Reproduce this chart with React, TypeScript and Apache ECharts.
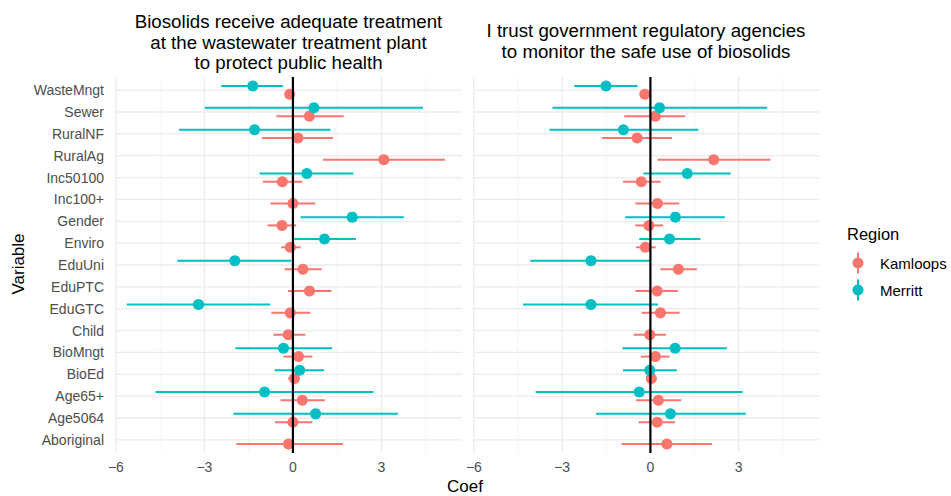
import React, { useEffect, useRef } from "react";
import * as echarts from "echarts";

const categories = ["WasteMngt", "Sewer", "RuralNF", "RuralAg", "Inc50100", "Inc100+", "Gender", "Enviro", "EduUni", "EduPTC", "EduGTC", "Child", "BioMngt", "BioEd", "Age65+", "Age5064", "Aboriginal"];

const panelTitles = [
  ["Biosolids receive adequate treatment", "at the wastewater treatment plant", "to protect public health"],
  ["I trust government regulatory agencies", "to monitor the safe use of biosolids"],
];

const xTicks = [-6, -3, 0, 3];
const xGridMajor = [-6, -3, 0, 3];
const xGridMinor = [-4.5, -1.5, 1.5, 4.5];

// Panel 1: treatment
const p1KamEst = [-0.11, 0.56, 0.17, 3.08, -0.36, 0.0, -0.37, -0.09, 0.34, 0.56, -0.09, -0.16, 0.19, 0.05, 0.32, 0.0, -0.15];
const p1KamLo = [-0.22, -0.56, -1.05, 1.02, -1.02, -0.76, -0.86, -0.4, -0.28, -0.17, -0.73, -0.66, -0.32, -0.16, -0.42, -0.61, -1.92];
const p1KamHi = [0.0, 1.72, 1.36, 5.15, 0.32, 0.76, 0.11, 0.26, 0.97, 1.3, 0.59, 0.42, 0.66, 0.23, 1.08, 0.66, 1.69];
const p1MerEst = [-1.36, 0.71, -1.3, null, 0.47, null, 2.01, 1.07, -1.97, null, -3.2, null, -0.32, 0.23, -0.96, 0.77, null];
const p1MerLo = [-2.43, -2.99, -3.86, null, -1.13, null, 0.26, 0.03, -3.92, null, -5.63, null, -1.95, -0.62, -4.66, -2.02, null];
const p1MerHi = [-0.34, 4.41, 1.27, null, 2.05, null, 3.76, 2.14, -0.05, null, -0.77, null, 1.33, 1.05, 2.73, 3.56, null];

// Panel 2: trust
const p2KamEst = [-0.19, 0.17, -0.45, 2.15, -0.31, 0.24, -0.05, -0.17, 0.95, 0.23, 0.34, -0.02, 0.17, 0.03, 0.27, 0.23, 0.56];
const p2KamLo = [-0.3, -0.89, -1.65, 0.24, -0.93, -0.51, -0.51, -0.49, 0.34, -0.51, -0.3, -0.57, -0.32, -0.15, -0.49, -0.4, -0.98];
const p2KamHi = [-0.08, 1.18, 0.73, 4.08, 0.35, 0.98, 0.43, 0.18, 1.58, 0.93, 0.99, 0.53, 0.65, 0.22, 1.05, 0.84, 2.09];
const p2MerEst = [-1.51, 0.31, -0.92, null, 1.25, null, 0.85, 0.65, -2.02, null, -2.02, null, 0.84, -0.02, -0.38, 0.68, null];
const p2MerLo = [-2.59, -3.33, -3.43, null, -0.24, null, -0.86, -0.38, -4.08, null, -4.33, null, -0.95, -0.93, -3.9, -1.85, null];
const p2MerHi = [-0.44, 3.97, 1.63, null, 2.73, null, 2.53, 1.7, -0.03, null, 0.26, null, 2.6, 0.9, 3.13, 3.24, null];

const regions = ["Kamloops", "Merritt"];
const colors: Record<string, string> = { Kamloops: "#F8766D", Merritt: "#00BFC4" };
const dodge: Record<string, number> = { Kamloops: 0.19, Merritt: -0.19 };

const FONT = "'Liberation Sans', Arial, Helvetica, sans-serif";
const X_MIN = -6.03;
const X_MAX = 5.73;
const Y_MIN = -0.6;
const Y_MAX = categories.length - 1 + 0.6;

function build(est: (number | null)[], lo: (number | null)[], hi: (number | null)[]) {
  const out: number[][] = [];
  est.forEach((e, i) => {
    if (e !== null && lo[i] !== null && hi[i] !== null) out.push([e, i, lo[i] as number, hi[i] as number]);
  });
  return out;
}

export default function App() {
  const ref = useRef<HTMLDivElement>(null);
  useEffect(() => {
    if (!ref.current) return;
    const chart = echarts.init(ref.current, undefined, { renderer: "svg" });

    const grids = [
      { left: 115, top: 77, width: 347, height: 376 },
      { left: 473, top: 77, width: 346, height: 376 },
    ];

    const panels = [
      { Kamloops: build(p1KamEst, p1KamLo, p1KamHi), Merritt: build(p1MerEst, p1MerLo, p1MerHi) },
      { Kamloops: build(p2KamEst, p2KamLo, p2KamHi), Merritt: build(p2MerEst, p2MerLo, p2MerHi) },
    ];

    const series: any[] = [];
    [0, 1].forEach((g) => {
      // vertical grid lines
      series.push({
        type: "custom",
        xAxisIndex: g,
        yAxisIndex: g,
        z: 1,
        silent: true,
        data: [...xGridMajor.map((v) => [v, 0, 1]), ...xGridMinor.map((v) => [v, 0, 0])],
        renderItem: (params: any, api: any) => {
          const v = api.value(0);
          const major = api.value(2) === 1;
          const a = api.coord([v, Y_MIN]);
          const b = api.coord([v, Y_MAX]);
          return {
            type: "line",
            shape: { x1: a[0], y1: a[1], x2: b[0], y2: b[1] },
            style: { stroke: major ? "#ebebeb" : "#f3f3f3", lineWidth: major ? 1.3 : 0.8 },
          };
        },
      });
      // horizontal grid lines
      series.push({
        type: "custom",
        xAxisIndex: g,
        yAxisIndex: g,
        z: 1,
        silent: true,
        data: categories.map((_, i) => [0, i]),
        renderItem: (params: any, api: any) => {
          const i = api.value(1);
          const a = api.coord([X_MIN, i]);
          const b = api.coord([X_MAX, i]);
          return {
            type: "line",
            shape: { x1: a[0], y1: a[1], x2: b[0], y2: b[1] },
            style: { stroke: "#ebebeb", lineWidth: 1.3 },
          };
        },
      });
      regions.forEach((r) => {
        const color = colors[r];
        const off = dodge[r];
        series.push({
          type: "custom",
          name: r,
          xAxisIndex: g,
          yAxisIndex: g,
          z: 2,
          data: (panels[g] as any)[r],
          encode: { x: [0, 2, 3], y: 1 },
          renderItem: (params: any, api: any) => {
            const y = api.value(1) + off;
            const a = api.coord([api.value(2), y]);
            const b = api.coord([api.value(3), y]);
            const c = api.coord([api.value(0), y]);
            return {
              type: "group",
              children: [
                { type: "line", shape: { x1: a[0], y1: a[1], x2: b[0], y2: b[1] }, style: { stroke: color, lineWidth: 2 } },
                { type: "circle", shape: { cx: c[0], cy: c[1], r: 5.5 }, style: { fill: color } },
              ],
            };
          },
        });
      });
      // zero reference line
      series.push({
        type: "custom",
        xAxisIndex: g,
        yAxisIndex: g,
        z: 3,
        silent: true,
        data: [[0, 0]],
        renderItem: (params: any, api: any) => {
          const v = api.value(0);
          const a = api.coord([v, Y_MIN]);
          const b = api.coord([v, Y_MAX]);
          return {
            type: "line",
            shape: { x1: a[0], y1: a[1], x2: b[0], y2: b[1] },
            style: { stroke: "#000000", lineWidth: 2.2 },
          };
        },
      });
    });

    const graphic: any[] = [];
    const titleLineY = [[21, 42, 62.5], [30.5, 51]];
    panelTitles.forEach((lines, g) => {
      const cx = grids[g].left + grids[g].width / 2;
      lines.forEach((t, k) => {
        graphic.push({
          type: "text",
          x: cx,
          y: titleLineY[g][k],
          style: { text: t, fill: "#000000", font: `18.7px ${FONT}`, textAlign: "center", textVerticalAlign: "middle" },
        });
      });
    });
    graphic.push({
      type: "text",
      x: 465,
      y: 486,
      style: { text: "Coef", fill: "#000000", font: `17px ${FONT}`, textAlign: "center", textVerticalAlign: "middle" },
    });
    graphic.push({
      type: "text",
      x: 18,
      y: 264,
      rotation: Math.PI / 2,
      style: { text: "Variable", fill: "#000000", font: `17px ${FONT}`, textAlign: "center", textVerticalAlign: "middle" },
    });
    graphic.push({
      type: "text",
      x: 847,
      y: 234,
      style: { text: "Region", fill: "#000000", font: `16.5px ${FONT}`, textAlign: "left", textVerticalAlign: "middle" },
    });
    regions.forEach((r, k) => {
      const cy = 263 + k * 27;
      graphic.push({
        type: "line",
        shape: { x1: 858, y1: cy - 10.5, x2: 858, y2: cy + 10.5 },
        style: { stroke: colors[r], lineWidth: 2 },
      });
      graphic.push({ type: "circle", shape: { cx: 858, cy, r: 5.5 }, style: { fill: colors[r] } });
      graphic.push({
        type: "text",
        x: 880,
        y: cy,
        style: { text: r, fill: "#000000", font: `15px ${FONT}`, textAlign: "left", textVerticalAlign: "middle" },
      });
    });

    chart.setOption({
      animation: false,
      backgroundColor: "#ffffff",
      textStyle: { fontFamily: FONT },
      grid: grids.map((g) => ({ ...g, containLabel: false })),
      xAxis: [0, 1].map((g) => ({
        type: "value",
        gridIndex: g,
        min: X_MIN,
        max: X_MAX,
        axisLine: { show: false },
        axisTick: { show: false },
        splitLine: { show: false },
        axisLabel: {
          customValues: xTicks,
          formatter: (v: number) => String(v).replace("-", "\u2212"),
          color: "#4d4d4d",
          fontSize: 14,
          fontFamily: FONT,
          margin: 7,
        },
      })),
      yAxis: [0, 1].map((g) => ({
        type: "value",
        gridIndex: g,
        min: Y_MIN,
        max: Y_MAX,
        inverse: true,
        axisLine: { show: false },
        axisTick: { show: false },
        splitLine: { show: false },
        axisLabel: {
          show: g === 0,
          customValues: categories.map((_, i) => i),
          formatter: (v: number) => categories[Math.round(v)] ?? "",
          color: "#4d4d4d",
          fontSize: 14,
          fontFamily: FONT,
          margin: 11,
        },
      })),
      series,
      graphic,
    });

    return () => chart.dispose();
  }, []);

  return <div ref={ref} style={{ position: "fixed", left: 0, top: 0, width: 951, height: 496 }} />;
}
